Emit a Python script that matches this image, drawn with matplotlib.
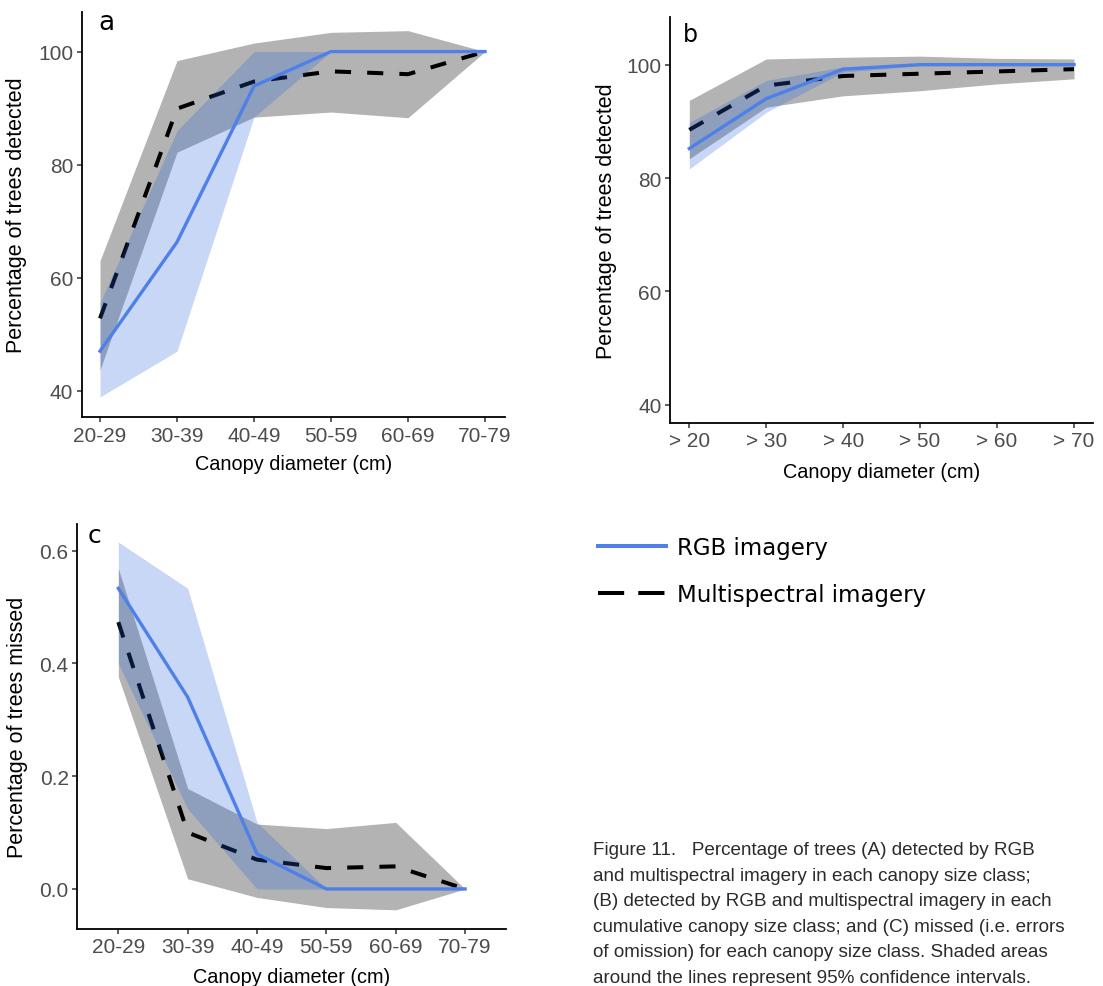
import matplotlib
matplotlib.use("Agg")
import matplotlib.pyplot as plt
from matplotlib.lines import Line2D
import numpy as np

# Data
size_classes = ['20-29', '30-39', '40-49', '50-59', '60-69', '70-79']
cum_classes = ['> 20', '> 30', '> 40', '> 50', '> 60', '> 70']

# a: % detected per size class
a_rgb = [47.0, 66.3, 93.9, 100, 100, 100]
a_rgb_lo = [38.9, 47.0, 88.4, 100, 100, 100]
a_rgb_hi = [55.5, 86.0, 100, 100, 100, 100]
a_ms = [52.8, 89.9, 94.7, 96.5, 96.0, 100]
a_ms_lo = [43.7, 82.2, 88.4, 89.3, 88.3, 100]
a_ms_hi = [63.0, 98.4, 101.5, 103.4, 103.7, 100]

# b: % detected, cumulative size class
b_rgb = [85.2, 94.0, 99.2, 100, 100, 100]
b_rgb_lo = [81.6, 91.6, 98.7, 99.8, 99.8, 99.8]
b_rgb_hi = [89.8, 97.2, 99.6, 100.1, 100.1, 100.1]
b_ms = [88.5, 96.3, 98.0, 98.4, 98.8, 99.2]
b_ms_lo = [83.4, 92.5, 94.5, 95.4, 96.6, 97.5]
b_ms_hi = [93.7, 101.0, 101.3, 101.5, 101.1, 101.0]

# c: proportion missed per size class
c_rgb = [0.533, 0.340, 0.062, 0, 0, 0]
c_rgb_lo = [0.40, 0.142, 0.0, 0, 0, 0]
c_rgb_hi = [0.615, 0.533, 0.118, 0, 0, 0]
c_ms = [0.473, 0.100, 0.052, 0.037, 0.040, 0]
c_ms_lo = [0.376, 0.018, -0.015, -0.033, -0.037, 0]
c_ms_hi = [0.568, 0.178, 0.115, 0.107, 0.118, 0]

caption = [
    "Figure 11.   Percentage of trees (A) detected by RGB",
    "and multispectral imagery in each canopy size class;",
    "(B) detected by RGB and multispectral imagery in each",
    "cumulative canopy size class; and (C) missed (i.e. errors",
    "of omission) for each canopy size class. Shaded areas",
    "around the lines represent 95% confidence intervals.",
]

W, H = 1103, 987
BLUE = '#4f80e8'
GREY = '#b3b3b3'
BLUE_FILL = '#2360db'

fig = plt.figure(figsize=(W / 100, H / 100), dpi=100)


def box(l, t, r, b):
    return [l / W, 1 - b / H, (r - l) / W, (b - t) / H]


def panel(rect, cats, rgb, rgb_lo, rgb_hi, ms, ms_lo, ms_hi,
          xlim, ylim, yticks, yfmt, ylabel, ylab_x, xlab_y):
    ax = fig.add_axes(rect)
    x = np.arange(len(cats))
    ax.fill_between(x, ms_lo, ms_hi, color=GREY, lw=0, zorder=1)
    ax.plot(x, ms, color='black', lw=2.9, dashes=(4, 4), zorder=2)
    ax.fill_between(x, rgb_lo, rgb_hi, color=BLUE_FILL, alpha=0.25, lw=0, zorder=3)
    ax.plot(x, rgb, color=BLUE, lw=2.4, zorder=4)
    ax.set_xlim(*xlim)
    ax.set_ylim(*ylim)
    ax.set_xticks(x)
    ax.set_xticklabels(cats)
    ax.set_yticks(yticks)
    ax.set_yticklabels([yfmt.format(v) for v in yticks])
    for s in ['top', 'right']:
        ax.spines[s].set_visible(False)
    for s in ['left', 'bottom']:
        ax.spines[s].set_linewidth(1.3)
    ax.tick_params(length=3.5, width=1.1, color='#333333', pad=2.5,
                   labelsize=15, labelcolor='#4d4d4d')
    for lab in ax.get_xticklabels() + ax.get_yticklabels():
        lab.set_family('Liberation Sans')
    ax.set_ylabel(ylabel, fontsize=15.5, family='Liberation Sans')
    ax.set_xlabel('Canopy diameter (cm)', fontsize=14.3, family='Liberation Sans')
    ax.yaxis.set_label_coords(ylab_x, 0.5)
    ax.xaxis.set_label_coords(0.5, xlab_y)
    return ax


panel(box(81.7, 13, 505, 418.3), size_classes, a_rgb, a_rgb_lo, a_rgb_hi,
      a_ms, a_ms_lo, a_ms_hi, (-0.238, 5.26), (35.3, 107.0),
      [40, 60, 80, 100], '{:.0f}', 'Percentage of trees detected', -0.129, -0.09)

panel(box(670, 18, 1093, 424), cum_classes, b_rgb, b_rgb_lo, b_rgb_hi,
      b_ms, b_ms_lo, b_ms_hi, (-0.251, 5.247), (36.8, 108.4),
      [40, 60, 80, 100], '{:.0f}', 'Percentage of trees detected', -0.125, -0.096)

panel(box(77, 525, 506, 930), size_classes, c_rgb, c_rgb_lo, c_rgb_hi,
      c_ms, c_ms_lo, c_ms_hi, (-0.596, 5.59), (-0.071, 0.647),
      [0.0, 0.2, 0.4, 0.6], '{:.1f}', 'Percentage of trees missed', -0.114, -0.094)

# panel letters
fig.text(98 / W, 1 - 30 / H, 'a', fontsize=19, family='DejaVu Sans', va='baseline')
fig.text(683 / W, 1 - 41.5 / H, 'b', fontsize=17, family='DejaVu Sans', va='baseline')
fig.text(88 / W, 1 - 543 / H, 'c', fontsize=18, family='DejaVu Sans', va='baseline')

# legend
handles = [Line2D([], [], color=BLUE, lw=2.9),
           Line2D([], [], color='black', lw=2.9, dashes=(6.5, 3.5))]
fig.legend(handles, ['RGB imagery', 'Multispectral imagery'],
           loc='upper left', bbox_to_anchor=(598 / W, 1 - 537 / H),
           frameon=False, borderpad=0, borderaxespad=0,
           handlelength=2.97, handletextpad=0.48, labelspacing=1.05,
           prop={'family': 'DejaVu Sans', 'size': 16.5})

# caption
for i, line in enumerate(caption):
    fig.text(593 / W, 1 - (855 + i * 25.6) / H, line, fontsize=13.6,
             family='Liberation Sans', color='#2b2b2b', va='baseline')

fig.savefig('out.png', dpi=100)
